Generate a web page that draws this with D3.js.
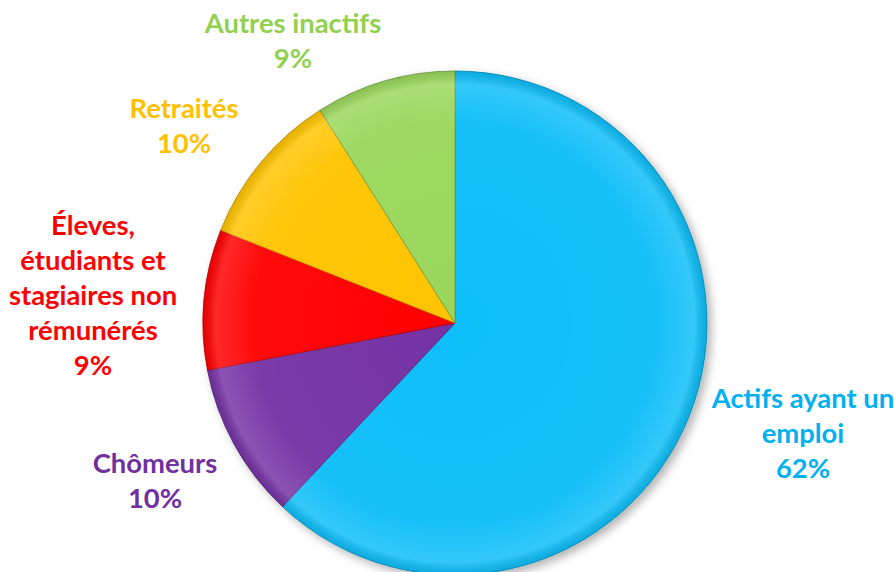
<!DOCTYPE html>
<html>
<head>
<meta charset="utf-8">
<script src="https://cdn.jsdelivr.net/npm/d3@7"></script>
<style>
  body { margin: 0; background: #fff; }
  svg { display: block; }
  .lbl { font-family: Lato, "Open Sans", sans-serif; font-weight: bold; }
</style>
</head>
<body>
<div id="chart"></div>
<script>
'use strict';

// data
var categories = ["Actifs ayant un emploi", "Chômeurs", "Éleves, étudiants et stagiaires non rémunérés", "Retraités", "Autres inactifs"];
var values = [62, 10, 9, 10, 9];
var labelLines = [
    ["Actifs ayant un", "emploi"],
    ["Chômeurs"],
    ["Éleves,", "étudiants et", "stagiaires non", "rémunérés"],
    ["Retraités"],
    ["Autres inactifs"]
];
var sliceColors = ["#08BEF8", "#7533A5", "#FF0000", "#FFC400", "#9AD75C"];
var textColors = ["#00B0F0", "#7030A0", "#FF0000", "#FFC000", "#92D050"];

var chart = {};
chart.w = 894;
chart.h = 572;
chart.cx = 455;
chart.cy = 323;
chart.r = 252;
chart.fontSize = 27.4;
chart.lineH = 35;
// label anchor: centre x, first baseline
chart.labelPos = [[803, 408], [155, 473], [93, 235], [184, 118], [293, 33]];

chart.svg = d3.select('#chart').append('svg')
    .attr('width', chart.w)
    .attr('height', chart.h);

var defs = chart.svg.append('defs');

var shadow = defs.append('filter')
    .attr('id', 'shadow')
    .attr('x', '-10%').attr('y', '-10%')
    .attr('width', '130%').attr('height', '130%');
shadow.append('feDropShadow')
    .attr('dx', 4).attr('dy', 4)
    .attr('stdDeviation', 5)
    .attr('flood-color', '#000')
    .attr('flood-opacity', 0.3);

// soft bevel light near the rim (gradient in the pie's local coords)
var bevel = defs.append('radialGradient')
    .attr('id', 'bevel')
    .attr('gradientUnits', 'userSpaceOnUse')
    .attr('cx', 0).attr('cy', 0).attr('r', chart.r);
bevel.append('stop').attr('offset', '0%').attr('stop-color', '#fff').attr('stop-opacity', 0.0);
bevel.append('stop').attr('offset', '80%').attr('stop-color', '#fff').attr('stop-opacity', 0.04);
bevel.append('stop').attr('offset', '95%').attr('stop-color', '#fff').attr('stop-opacity', 0.16);
bevel.append('stop').attr('offset', '100%').attr('stop-color', '#000').attr('stop-opacity', 0.10);

var pie = d3.pie().sort(null).value(function(d) { return d; });
var arcs = pie(values);

var arc = d3.arc().innerRadius(0).outerRadius(chart.r);

var g = chart.svg.append('g')
    .attr('transform', 'translate(' + chart.cx + ',' + chart.cy + ')');

g.append('g')
    .attr('filter', 'url(#shadow)')
    .selectAll('path.slice')
    .data(arcs)
    .enter()
    .append('path')
    .attr('class', 'slice')
    .attr('d', arc)
    .style('fill', function(d, i) { return sliceColors[i]; })
    .style('stroke', function(d, i) { return d3.color(sliceColors[i]).darker(0.9); })
    .style('stroke-width', 0.8);

g.selectAll('path.shine')
    .data(arcs)
    .enter()
    .append('path')
    .attr('class', 'shine')
    .attr('d', arc)
    .style('fill', 'url(#bevel)');

// labels
var labels = chart.svg.selectAll('text.lbl')
    .data(arcs)
    .enter()
    .append('text')
    .attr('class', 'lbl')
    .attr('text-anchor', 'middle')
    .attr('font-size', chart.fontSize)
    .style('fill', function(d, i) { return textColors[i]; });

labels.each(function(d, i) {
    var t = d3.select(this);
    var lines = labelLines[i].concat([values[i] + '%']);
    lines.forEach(function(line, k) {
        t.append('tspan')
            .attr('x', chart.labelPos[i][0])
            .attr('y', chart.labelPos[i][1] + k * chart.lineH)
            .text(line);
    });
});
</script>
</body>
</html>
